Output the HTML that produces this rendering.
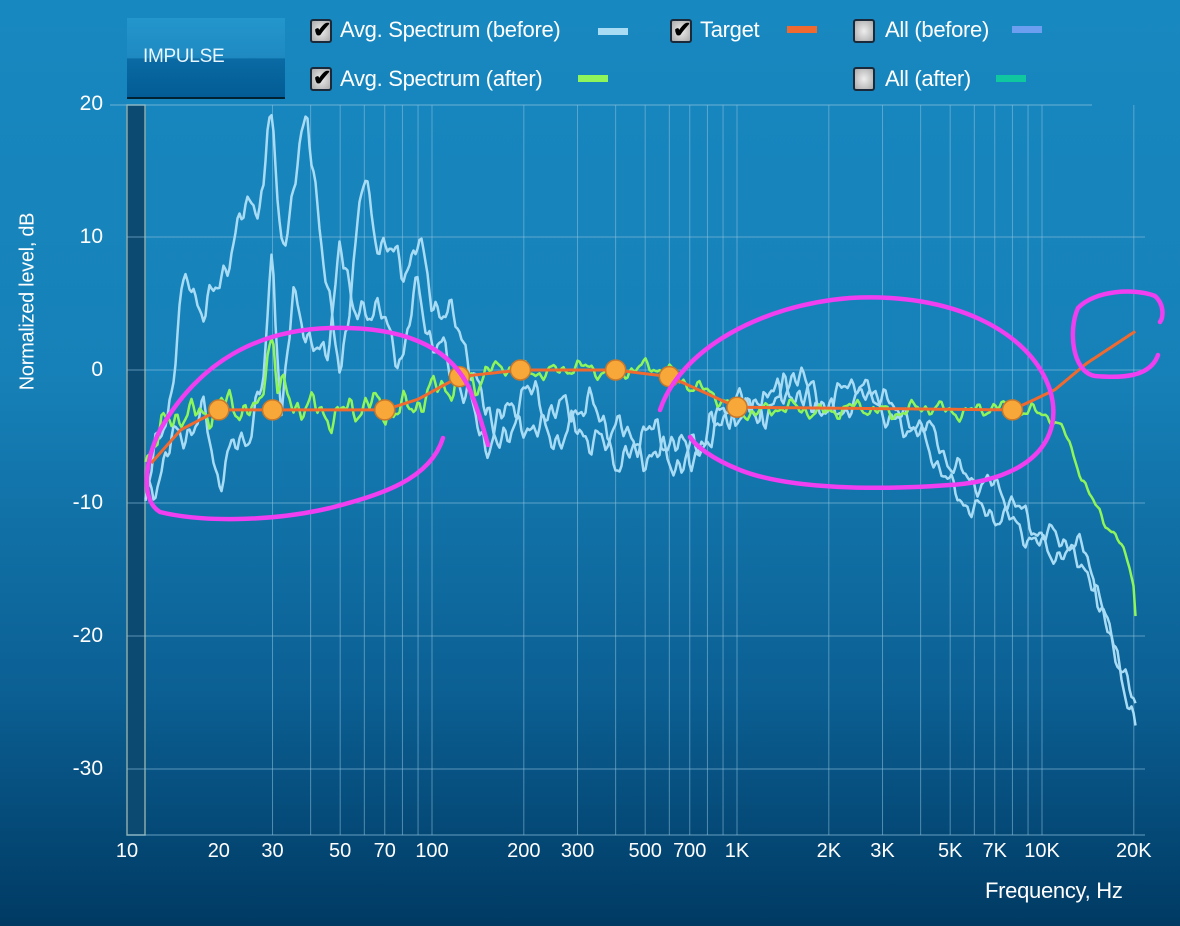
<!DOCTYPE html>
<html><head><meta charset="utf-8">
<style>
html,body{margin:0;padding:0;}
body{width:1180px;height:926px;overflow:hidden;background:linear-gradient(#1888c0 0%,#1681b8 40%,#0b5f93 75%,#003a63 100%);font-family:"Liberation Sans",sans-serif;position:relative;}
.t{position:absolute;color:#fff;font-size:22px;white-space:nowrap;letter-spacing:-0.3px;}
.cb{position:absolute;width:18px;height:20px;border:2px solid #1a2a3a;border-radius:3px;background:radial-gradient(#eee,#aaa);}
.ck{position:absolute;left:1px;top:-4px;font-size:22px;font-weight:bold;color:#000;}
.sw{position:absolute;height:7px;width:30px;}
.yl{position:absolute;right:1077px;color:#fff;font-size:21px;}
.xl{position:absolute;top:840px;color:#fff;font-size:20px;transform:translateX(-50%);}
</style></head><body>
<div style="position:absolute;left:127px;top:18px;width:158px;height:79px;background:linear-gradient(#2396cc 0%,#1f8ac2 50%,#0a6aa3 52%,#035c95 100%);border-bottom:2px solid #023;"></div>
<div class="t" style="left:143px;top:46px;font-size:19px;color:#e8f6ff;">IMPULSE</div>

<div class="cb" style="left:310px;top:19px"><span class="ck">✔</span></div>
<div class="t" style="left:340px;top:17px">Avg. Spectrum (before)</div>
<div class="sw" style="left:598px;top:28px;background:#a8dcf5"></div>
<div class="cb" style="left:670px;top:19px"><span class="ck">✔</span></div>
<div class="t" style="left:700px;top:17px">Target</div>
<div class="sw" style="left:787px;top:26px;background:#f06a30"></div>
<div class="cb" style="left:853px;top:19px"></div>
<div class="t" style="left:885px;top:17px">All (before)</div>
<div class="sw" style="left:1012px;top:26px;background:#6c9ff0"></div>
<div class="cb" style="left:310px;top:67px"><span class="ck">✔</span></div>
<div class="t" style="left:340px;top:66px">Avg. Spectrum (after)</div>
<div class="sw" style="left:578px;top:75px;background:#8ef55a"></div>
<div class="cb" style="left:853px;top:67px"></div>
<div class="t" style="left:885px;top:66px">All (after)</div>
<div class="sw" style="left:996px;top:75px;background:#10c8a0"></div>

<div class="yl" style="top:92px">20</div>
<div class="yl" style="top:225px">10</div>
<div class="yl" style="top:358px">0</div>
<div class="yl" style="top:491px">-10</div>
<div class="yl" style="top:624px">-20</div>
<div class="yl" style="top:757px">-30</div>
<div class="t" style="left:-82px;top:290px;font-size:20px;transform:rotate(-90deg);transform-origin:center;width:220px;text-align:center">Normalized level, dB</div>
<div class="t" style="left:985px;top:878px;font-size:22px">Frequency, Hz</div>
<div id="xl"></div>

<svg id="s" width="1180" height="926" style="position:absolute;left:0;top:0"></svg>
<script>
var s=document.getElementById('s');
function X(f){return 127+305*Math.log10(f/10);}
function Y(d){return 370-13.3*d;}
var h='';
h+='<rect x="127" y="105" width="18" height="730" fill="#0d4a72" stroke="#8aa" stroke-width="1.5"/>';
[10,0,-10,-20,-30].forEach(function(d){h+='<line x1="127" x2="1145" y1="'+Y(d)+'" y2="'+Y(d)+'" stroke="#8fc3e0" stroke-opacity=".6"/>';});
h+='<line x1="110" x2="1092" y1="105" y2="105" stroke="#8fc3e0" stroke-opacity=".7"/>';
h+='<line x1="127" x2="1145" y1="835" y2="835" stroke="#8fc3e0" stroke-opacity=".7"/>';
var gl=[30,40,50,60,70,80,90,100,200,300,400,500,600,700,800,900,1000,2000,3000,4000,5000,6000,7000,8000,9000,10000,20000];
gl.forEach(function(f){h+='<line y1="105" y2="835" x1="'+X(f)+'" x2="'+X(f)+'" stroke="#8fc3e0" stroke-opacity=".55"/>';});
var xls=[[10,'10'],[20,'20'],[30,'30'],[50,'50'],[70,'70'],[100,'100'],[200,'200'],[300,'300'],[500,'500'],[700,'700'],[1000,'1K'],[2000,'2K'],[3000,'3K'],[5000,'5K'],[7000,'7K'],[10000,'10K'],[20000,'20K']];
var xd='';xls.forEach(function(a){xd+='<div class="xl" style="left:'+X(a[0])+'px">'+a[1]+'</div>';});
document.getElementById('xl').innerHTML=xd;
function interp(p,f){var lf=Math.log(f);for(var i=0;i<p.length-1;i++){var a=Math.log(p[i][0]),b=Math.log(p[i+1][0]);if(lf<=b){var t=(lf-a)/(b-a);return p[i][1]+(p[i+1][1]-p[i][1])*t;}}return p[p.length-1][1];}
function noise(x,s){return Math.sin(x*0.21+s)*0.5+Math.sin(x*0.47+s*2.3)*0.35+Math.sin(x*0.83+s*5.1)*0.2+Math.sin(x*0.09+s*1.7)*0.3;}
function curve(p,f0,f1,amp,seed,col,w){var d='';var x0=X(f0),x1=X(f1);for(var x=x0;x<=x1;x+=2){var f=10*Math.pow(10,(x-127)/305);var v=interp(p,f)+noise(x,seed)*amp(f);d+=(d?'L':'M')+x.toFixed(1)+' '+Y(v).toFixed(1);}h+='<path d="'+d+'" fill="none" stroke="'+col+'" stroke-width="'+w+'" stroke-linejoin="round"/>';}
var A=[[12,-8],[14,-2],[15,5],[16,7],[18,5],[20,6],[22,9],[25,12],[28,14],[29,19],[30,19.5],[31,12],[33,10],[36,15],[39,18],[42,13],[46,5],[50,0],[55,8],[60,14],[65,10],[70,9],[80,8],[90,10],[100,5],[110,4],[130,2],[150,-3],[180,-6],[200,-4],[300,-5],[400,-6],[600,-7],[800,-5],[1000,-3],[1500,-2],[2000,-2],[2500,-1],[3000,-3],[4000,-4],[5000,-7],[7000,-9],[10000,-12],[14000,-14],[17000,-20],[20500,-27.5]];
var B=[[12,-9],[15,-5],[18,-3],[20,-8],[25,-5],[28,-1],[30,10],[32,-3],[35,5],[40,2],[45,0],[50,11],[55,4],[60,5],[70,3],[80,1],[90,7],[100,2],[130,-2],[150,-5],[200,-2],[300,-3],[500,-5],[700,-6],[1000,-3],[1500,-1],[2000,-3],[3000,-2],[4000,-5],[5000,-9],[7000,-11],[10000,-13],[14000,-15],[17000,-20],[20500,-26]];
var G=[[12,-6],[15,-3],[20,-3],[27,-3],[29,2],[30,3.5],[31,-1],[35,-3],[70,-3],[100,-2],[150,0],[600,0],[900,-2.5],[1000,-3],[10000,-3],[12000,-5],[14000,-9],[18000,-13],[20000,-16],[20500,-20.5]];
var bAmp=function(f){return f<2000?1.6:1.1;};
curve(B,11.5,20500,bAmp,3,'#a8dcf5',2.5);
curve(A,11.5,20500,bAmp,7,'#a8dcf5',2.5);
curve(G,11.5,20500,function(f){return f<150?1.4:(f<10000?0.7:0.5);},11,'#8ef55a',2.5);
var T=[[12,-7],[15,-4.5],[20,-3],[70,-3],[90,-2.2],[123,-0.5],[195,0],[400,0],[600,-0.5],[1000,-2.8],[8000,-3],[11000,-1.5],[14000,0.5],[20500,3]];
curve(T,12,20500,function(){return 0;},0,'#f06a30',3);
[[20,-3],[30,-3],[70,-3],[123,-0.5],[195,0],[400,0],[600,-0.5],[1000,-2.8],[8000,-3]].forEach(function(p){h+='<circle cx="'+X(p[0])+'" cy="'+Y(p[1])+'" r="10" fill="#f7a838" stroke="#c9782a" stroke-width="1.5"/>';});
var m='fill="none" stroke="#ef3ff0" stroke-width="4.5" stroke-linecap="round"';
h+='<path '+m+' d="M443 438 C430 480 380 495 330 508 C270 522 200 522 160 512 C140 500 145 460 160 430 C200 360 260 330 330 328 C400 326 450 345 470 390 C478 410 484 430 488 445"/>';
h+='<path '+m+' d="M660 410 C680 350 760 305 850 298 C950 292 1030 330 1050 390 C1065 440 1030 480 950 485 C880 490 790 490 740 470 C710 458 695 445 690 437"/>';
h+='<path '+m+' d="M1158 355 C1150 378 1120 378 1095 376 C1072 372 1068 330 1078 308 C1095 290 1135 288 1155 296 C1165 305 1163 318 1160 322"/>';
s.innerHTML=h;
</script>
</body></html>
